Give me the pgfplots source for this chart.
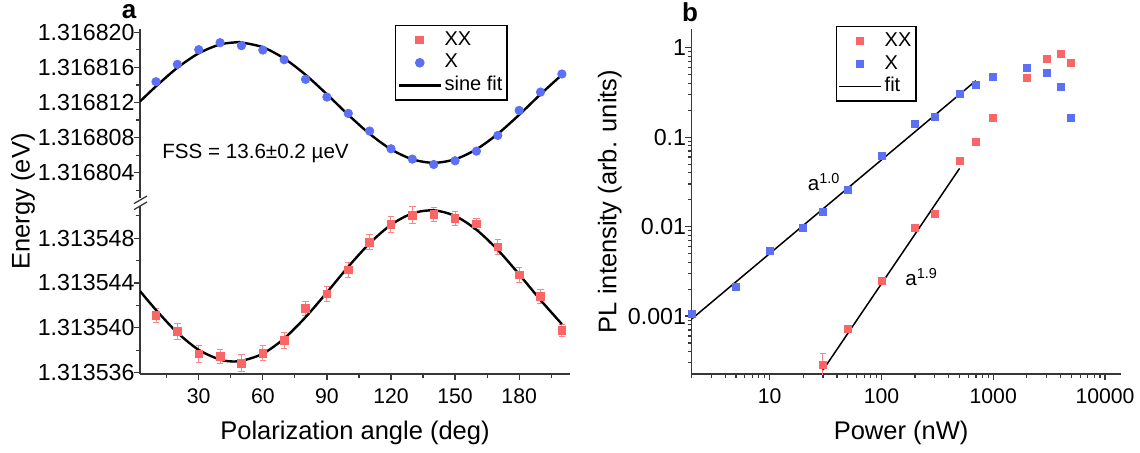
\documentclass[border=0pt]{standalone}
\usepackage{pgfplots}
\pgfplotsset{compat=1.18}
\usepackage{fontspec}
\setmainfont{Liberation Sans}
\definecolor{xxred}{RGB}{250,102,102}
\definecolor{xblue}{RGB}{92,112,245}
\definecolor{axisgray}{RGB}{55,55,55}
\pgfplotsset{
  origin/.style={
    scale only axis,
    axis line style={axisgray, line width=0.65pt},
    tick style={axisgray, line width=0.6pt},
    tick align=outside,
    major tick length=3.2pt,
    minor tick length=1.8pt,
    xticklabel style={font=\fontsize{10.6}{12}\selectfont, yshift=-0.8pt},
    yticklabel style={font=\fontsize{11.6}{13}\selectfont, xshift=4pt},
    label style={font=\fontsize{12.75}{15}\selectfont},
    legend style={font=\fontsize{10}{12}\selectfont, draw=black, line width=0.6pt,
      inner xsep=1pt, inner ysep=1.5pt,
      nodes={inner sep=1.3pt, text height=7pt, text depth=1.8pt},
      cells={anchor=west}},
    legend image code/.code={\path[draw=none,fill=none] (0pt,-2pt) rectangle (21pt,2pt);
      \draw[mark repeat=2,mark phase=2,##1] plot coordinates {(0pt,0pt) (10.5pt,0pt) (21pt,0pt)};},
  }
}
\begin{document}
\begin{tikzpicture}
\path[use as bounding box] (0pt,0pt) rectangle (570pt,-226.5pt);

% ---------- panel a, upper part (X), energies in micro-eV above 1.316800 eV
\begin{axis}[origin, at={(70pt,-99pt)}, anchor=south west,
  width=215pt, height=84.5pt,
  xmin=2.5, xmax=203.8, ymin=1.12, ymax=20.38,
  axis y line*=left, axis x line=none,
  ytick={4,8,12,16,20},
  yticklabels={1.316804,1.316808,1.316812,1.316816,1.316820},
  minor ytick={2,6,10,14,18},
  legend style={at={(0.593,1.0237)}, anchor=north west},
]
\addlegendimage{only marks, mark=square*, color=xxred, mark size=1.9pt}
\addlegendentry{XX}
\addplot[only marks, mark=*, mark size=2.1pt, color=xblue] coordinates {
(10,14.37) (20,16.35) (30,18.02) (40,18.82) (50,18.48) (60,17.98) (70,16.88)
(80,14.64) (90,12.62) (100,10.76) (110,8.75) (120,6.73) (130,5.55) (140,4.94)
(150,5.36) (160,6.46) (170,8.25) (180,11.10) (190,13.19) (200,15.25)};
\addlegendentry{X}
\addplot[black, line width=1.2pt, smooth] coordinates {
(2.5,12.12) (10,13.85) (20,15.96) (30,17.61) (40,18.62) (48,18.87) (50,18.85)
(60,18.30) (70,17.02) (80,15.16) (90,12.94) (100,10.60) (110,8.43) (120,6.67)
(130,5.53) (140,5.13) (150,5.53) (160,6.67) (170,8.43) (180,10.60) (190,12.94)
(200,15.16)};
\addlegendentry{sine fit}
\node[font=\fontsize{10.3}{12}\selectfont] at (axis cs:56.6,6.17) {FSS = 13.6±0.2 µeV};
\end{axis}

% ---------- panel a, lower part (XX), energies in micro-eV above 1.313536 eV
\begin{axis}[origin, at={(70pt,-187pt)}, anchor=south west,
  width=215pt, height=84pt,
  xmin=2.5, xmax=203.8, ymin=-0.12, ymax=14.87,
  axis lines*=left,
  xtick={30,60,90,120,150,180},
  xticklabels={30,60,90,120,150,180},
  minor xtick={15,45,75,105,135,165,195},
  ytick={0,4,8,12},
  yticklabels={1.313536,1.313540,1.313544,1.313548},
  minor ytick={2,6,10,14},
  xlabel={Polarization angle (deg)},
  xlabel style={at={(axis description cs:0.5,-0.351)}, anchor=center},
  ylabel={Energy (eV)},
  ylabel style={at={(axis description cs:-0.272,1.027)}, anchor=center},
]
\addplot[only marks, mark=square*, mark size=1.9pt, color=xxred,
  error bars/.cd, y dir=both, y explicit,
  error bar style={color=xxred!80, line width=0.5pt},
  error mark options={color=xxred!80, mark size=1.6pt, line width=0.5pt, rotate=90}]
  coordinates {
(10,5.10) +- (0,0.60) (20,3.66) +- (0,0.70) (30,1.68) +- (0,0.75)
(40,1.44) +- (0,0.65) (50,0.84) +- (0,0.78) (60,1.74) +- (0,0.70)
(70,2.88) +- (0,0.70) (80,5.73) +- (0,0.65) (90,7.02) +- (0,0.70)
(100,9.18) +- (0,0.65) (110,11.64) +- (0,0.65) (120,13.23) +- (0,0.70)
(130,14.04) +- (0,0.75) (140,14.10) +- (0,0.60) (150,13.74) +- (0,0.60)
(160,13.26) +- (0,0.50) (170,11.22) +- (0,0.65) (180,8.73) +- (0,0.65)
(190,6.78) +- (0,0.60) (200,3.78) +- (0,0.55)};
\addplot[black, line width=1.2pt, smooth] coordinates {
(2.5,7.28) (10,5.59) (20,3.57) (30,2.03) (40,1.16) (46.5,0.99) (50,1.04)
(60,1.69) (70,3.05) (80,4.95) (90,7.16) (100,9.45) (110,11.54) (120,13.19)
(130,14.21) (140,14.48) (150,13.98) (160,12.75) (170,10.95) (180,8.77)
(190,6.48) (200,4.33)};
\end{axis}

% axis break marks
\draw[axisgray, line width=0.65pt] (67pt,-101.8pt) -- (73.5pt,-98pt);
\draw[axisgray, line width=0.65pt] (67pt,-104.8pt) -- (73.5pt,-101pt);

% ---------- panel b
\begin{axis}[origin, at={(345.75pt,-187pt)}, anchor=south west,
  width=214.75pt, height=172.5pt,
  xmode=log, ymode=log,
  xmin=2, xmax=13900, ymin=2.25e-4, ymax=1.62,
  axis lines*=left,
  xtick={10,100,1000,10000},
  xticklabels={10,100,1000,10000},
  minor xtick={2,3,4,5,6,7,8,9,20,30,40,50,60,70,80,90,200,300,400,500,600,700,800,900,2000,3000,4000,5000,6000,7000,8000,9000},
  ytick={0.001,0.01,0.1,1},
  yticklabels={0.001,0.01,0.1,1},
  minor ytick={0.0003,0.0004,0.0005,0.0006,0.0007,0.0008,0.0009,0.002,0.003,0.004,0.005,0.006,0.007,0.008,0.009,0.02,0.03,0.04,0.05,0.06,0.07,0.08,0.09,0.2,0.3,0.4,0.5,0.6,0.7,0.8,0.9},
  xlabel={Power (nW)},
  xlabel style={at={(axis description cs:0.488,-0.171)}, anchor=center},
  ylabel={PL intensity (arb. units)},
  ylabel style={at={(axis description cs:-0.190,0.5)}, anchor=center},
  legend style={at={(0.3364,1.0087)}, anchor=north west},
]
\addplot[only marks, mark=square*, mark size=1.75pt, color=xxred,
  error bars/.cd, y dir=both, y explicit,
  error bar style={color=xxred!80, line width=0.5pt},
  error mark options={color=xxred!80, mark size=1.6pt, line width=0.5pt, rotate=90}]
  coordinates {
(30,0.000284) +- (0,0.0001) (50,0.000716) +- (0,0.00006) (100,0.00246) +- (0,0)
(200,0.0098) +- (0,0) (300,0.0138) +- (0,0) (500,0.0547) +- (0,0)
(700,0.089) +- (0,0) (1000,0.163) +- (0,0) (2000,0.462) +- (0,0)
(3000,0.76) +- (0,0) (4000,0.857) +- (0,0) (5000,0.68) +- (0,0)};
\addlegendentry{XX}
\addplot[only marks, mark=square*, mark size=1.75pt, color=xblue] coordinates {
(2,0.00105) (5,0.00212) (10,0.0053) (20,0.00975) (30,0.0145) (50,0.0257)
(100,0.0621) (200,0.139) (300,0.168) (500,0.304) (700,0.38) (1000,0.474)
(2000,0.593) (3000,0.526) (4000,0.361) (5000,0.163)};
\addlegendentry{X}
\addplot[black, line width=0.75pt] coordinates {(2,0.000925) (700,0.428)};
\addlegendentry{fit}
\addplot[black, line width=0.75pt, forget plot] coordinates {(30,0.000249) (500,0.0448)};
\node[font=\fontsize{10.3}{12}\selectfont] at (axis cs:30.7,0.0316) {a\textsuperscript{1.0}};
\node[font=\fontsize{10.3}{12}\selectfont] at (axis cs:229,0.00273) {a\textsuperscript{1.9}};
\end{axis}

\node[font=\bfseries\fontsize{13}{15}\selectfont] at (64.5pt,-6pt) {a};
\node[font=\bfseries\fontsize{13}{15}\selectfont] at (345pt,-6pt) {b};
\end{tikzpicture}
\end{document}
